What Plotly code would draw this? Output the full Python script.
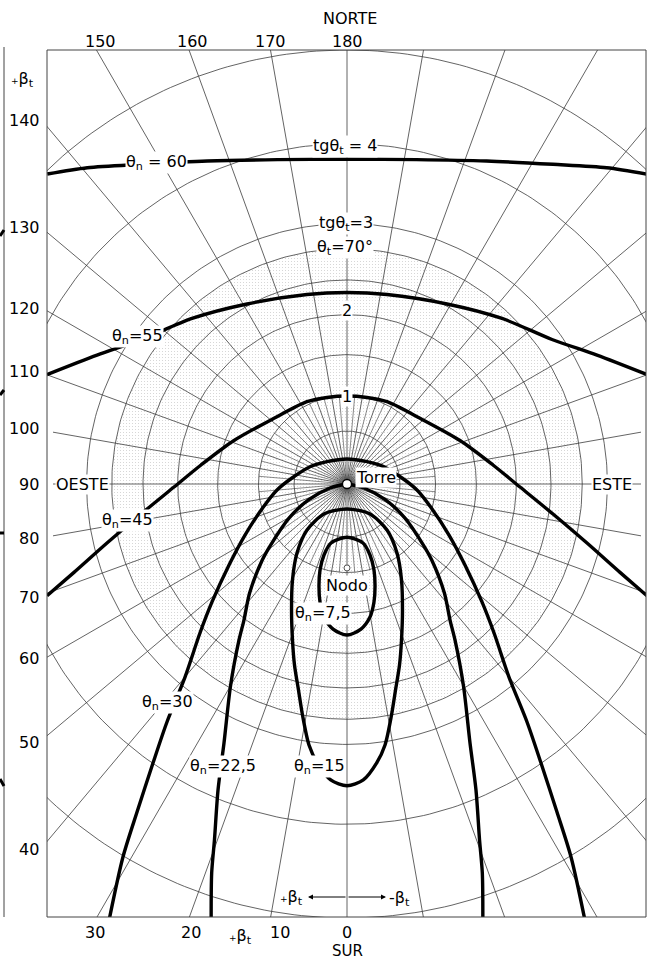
import numpy as np
import plotly.graph_objects as go

# ---------------- data (units: tg(theta_t); x = east, y = north; Torre at origin)
theta60_x = [-3.453, -2.992, -2.373, -1.609, -0.8, 0, 0.8, 1.609, 2.373, 2.992, 3.453]
theta60_y = [3.571, 3.644, 3.683, 3.721, 3.737, 3.741, 3.737, 3.721, 3.683, 3.644, 3.571]

theta55_x = [-3.456, -2.880, -2.362, -1.786, -1.152, -0.461, 0, 0.461, 1.152, 1.786, 2.362, 2.880, 3.456]
theta55_y = [1.261, 1.485, 1.665, 1.907, 2.074, 2.183, 2.206, 2.183, 2.074, 1.907, 1.665, 1.485, 1.261]

theta45_x = [-3.456, -3.145, -2.765, -2.373, -1.993, -1.682, -1.302, -0.841, -0.461, -0.230, 0,
             0.230, 0.461, 0.841, 1.302, 1.682, 1.993, 2.373, 2.765, 3.145, 3.456]
theta45_y = [-1.288, -1.018, -0.680, -0.346, -0.035, 0.219, 0.501, 0.757, 0.948, 0.997, 1.014,
             0.997, 0.948, 0.757, 0.501, 0.219, -0.035, -0.346, -0.680, -1.018, -1.288]

theta30_x = [-2.736, -2.581, -2.419, -2.235, -2.074, -1.866, -1.694, -1.555, -1.359, -1.175, -0.968,
             -0.806, -0.634, -0.426, -0.230, 0, 0.230, 0.426, 0.634, 0.806, 0.968, 1.175, 1.359,
             1.555, 1.694, 1.866, 2.074, 2.235, 2.419, 2.581, 2.736]
theta30_y = [-5.0, -4.297, -3.779, -3.215, -2.742, -2.224, -1.717, -1.359, -0.933, -0.588, -0.271,
             -0.069, 0.069, 0.199, 0.257, 0.288, 0.257, 0.199, 0.069, -0.069, -0.271, -0.588, -0.933,
             -1.359, -1.717, -2.224, -2.742, -3.215, -3.779, -4.297, -5.0]

theta22_x = [-1.565, -1.559, -1.527, -1.486, -1.417, -1.342, -1.244, -1.187, -1.122, -0.976, -0.88,
             -0.668, -0.444, -0.196, 0, 0.196, 0.444, 0.668, 0.88, 0.976, 1.122, 1.187, 1.244, 1.342,
             1.417, 1.486, 1.527, 1.559, 1.565]
theta22_y = [-5.0, -4.482, -4.101, -3.525, -2.984, -2.327, -1.797, -1.567, -1.256, -0.876, -0.703,
             -0.392, -0.184, -0.046, 0, -0.046, -0.184, -0.392, -0.703, -0.876, -1.256, -1.567, -1.797,
             -2.327, -2.984, -3.525, -4.101, -4.482, -5.0]

theta15_x = [0, 0.265, 0.461, 0.576, 0.628, 0.639, 0.628, 0.605, 0.559, 0.513, 0.438, 0.342, 0.188, 0,
             -0.188, -0.342, -0.438, -0.513, -0.559, -0.605, -0.628, -0.639, -0.628, -0.576, -0.461,
             -0.265, 0]
theta15_y = [-0.288, -0.346, -0.530, -0.795, -1.106, -1.452, -1.797, -2.085, -2.373, -2.661, -3.007,
             -3.214, -3.410, -3.476, -3.410, -3.214, -3.007, -2.661, -2.373, -2.085, -1.797, -1.452,
             -1.106, -0.795, -0.530, -0.346, -0.288]

theta7_x = [0, 0.184, 0.265, 0.311, 0.323, 0.311, 0.265, 0.161, 0, -0.161, -0.265, -0.311, -0.323,
            -0.311, -0.265, -0.184, 0]
theta7_y = [-0.614, -0.680, -0.818, -0.991, -1.175, -1.359, -1.532, -1.671, -1.740, -1.671, -1.532,
            -1.359, -1.175, -0.991, -0.818, -0.680, -0.614]

nodo_xy = (0.0, -0.967)
torre_xy = (0.0, 0.0)

# grid definition (coordinate system)
circle_tg = [0.61, 1.02, 1.49, 1.95, 2.35, 3.0, 3.92, 5.0]
shade_tg = 2.71          # theta_t = 70 deg
spoke_major = list(range(0, 360, 10))
spoke_minor = list(range(5, 360, 10))
minor_len = 1.02

left_ticks = [140, 130, 120, 110, 100, 90, 80, 70, 60, 50, 40]
left_tick_px = [120, 228, 308, 372, 429, 484, 538, 597, 658, 742, 849]
top_ticks = [150, 160, 170, 180]
top_tick_px = [100, 192, 270, 347]
bottom_ticks = [30, 20, 10, 0]
bottom_tick_px = [95, 191, 280, 347]

# ---------------- layout helpers (pixel -> data / paper)
S = 86.8
CX, CY = 347.0, 484.0
L_, R_, T_, B_ = 47, 646, 50, 917
def X(p): return (p - CX) / S
def Y(p): return (CY - p) / S
def PX(p): return (p - L_) / (R_ - L_)
def PY(p): return (B_ - p) / (B_ - T_)

FONT = "DejaVu Sans"
FS = 16
GRID = "#3c3c3c"
fig = go.Figure()

# shaded disk
t = np.linspace(0, 2 * np.pi, 361)
fig.add_trace(go.Scatter(x=shade_tg * np.cos(t), y=shade_tg * np.sin(t), mode="lines",
                         line=dict(width=0), fill="toself", fillcolor="white",
                         fillpattern=dict(shape=".", fgcolor="#a0a0a0", bgcolor="white",
                                          size=3, solidity=0.12),
                         hoverinfo="skip", showlegend=False))

# circles
for r in circle_tg + [shade_tg]:
    fig.add_trace(go.Scatter(x=r * np.cos(t), y=r * np.sin(t), mode="lines",
                             line=dict(color=GRID, width=0.8), hoverinfo="skip", showlegend=False))

# spokes (beta measured from south, positive toward west)
xmax_h = X(641)
for b in spoke_major:
    br = np.radians(b)
    dx, dy = -np.sin(br), -np.cos(br)
    Ls = 8.0
    if abs(dx) > 0.97:
        Ls = xmax_h / abs(dx)
    fig.add_trace(go.Scatter(x=[0, Ls * dx], y=[0, Ls * dy], mode="lines",
                             line=dict(color=GRID, width=0.8), hoverinfo="skip", showlegend=False))
for b in spoke_minor:
    br = np.radians(b)
    dx, dy = -np.sin(br), -np.cos(br)
    fig.add_trace(go.Scatter(x=[0, minor_len * dx], y=[0, minor_len * dy], mode="lines",
                             line=dict(color=GRID, width=0.6), hoverinfo="skip", showlegend=False))

# theta_n curves
thick = dict(color="black", width=3.4, shape="spline", smoothing=0.8)
for cx_, cy_ in [(theta60_x, theta60_y), (theta55_x, theta55_y), (theta45_x, theta45_y),
                 (theta30_x, theta30_y), (theta15_x, theta15_y), (theta7_x, theta7_y)]:
    fig.add_trace(go.Scatter(x=cx_, y=cy_, mode="lines", line=thick,
                             hoverinfo="skip", showlegend=False))
apex = theta22_y.index(0)
fig.add_trace(go.Scatter(x=theta22_x[:apex + 1], y=theta22_y[:apex + 1], mode="lines", line=thick,
                         hoverinfo="skip", showlegend=False))
fig.add_trace(go.Scatter(x=theta22_x[apex:], y=theta22_y[apex:], mode="lines", line=thick,
                         hoverinfo="skip", showlegend=False))

# Torre and Nodo
fig.add_trace(go.Scatter(x=[nodo_xy[0]], y=[nodo_xy[1]], mode="markers",
                         marker=dict(size=6, color="white", line=dict(color="#555", width=1)),
                         hoverinfo="skip", showlegend=False))
fig.add_trace(go.Scatter(x=[torre_xy[0]], y=[torre_xy[1]], mode="markers",
                         marker=dict(size=9, color="white", line=dict(color="black", width=1.3)),
                         hoverinfo="skip", showlegend=False))

ann = []
def lab(text, xp, yp, size=FS, bg=None, xanchor="center"):
    d = dict(text=text, x=PX(xp), y=PY(yp), xref="paper", yref="paper", showarrow=False,
             font=dict(family=FONT, size=size, color="black"), xanchor=xanchor, yanchor="middle")
    if bg:
        d.update(bgcolor=bg, borderpad=0)
    ann.append(d)

bt = "<span style='font-size:9px;color:black'>+</span>β<sub>t</sub>"
# axis-like labels
for v, p in zip(left_ticks, left_tick_px):
    lab(str(v), 42 if v >= 100 else 40.5, p, xanchor="right")
lab(bt, 22, 80)
for v, p in zip(top_ticks, top_tick_px):
    lab(str(v), p, 41)
lab("NORTE", 350, 18)
for v, p in zip(bottom_ticks, bottom_tick_px):
    lab(str(v), p, 932)
lab(bt, 240, 936)
lab("SUR", 347, 951, size=15)
lab("OESTE", 82, 484, bg="white")
lab("ESTE", 612, 484, bg="white")

# scale labels on the vertical axis
lab("tgθ<sub>t</sub> = 4", 345, 147, bg="white")
lab("tgθ<sub>t</sub>=3", 346, 223, bg="white")
lab("θ<sub>t</sub>=70°", 345, 248, bg="white")
lab("2", 347, 310, bg="white")
lab("1", 347, 396, bg="white")

# curve labels
lab("θ<sub>n</sub> = 60", 156, 162, bg="white")
lab("θ<sub>n</sub>=55", 137, 336, bg="white")
lab("θ<sub>n</sub>=45", 128, 520, bg="white")
lab("θ<sub>n</sub>=30", 167, 702, bg="white")
lab("θ<sub>n</sub>=22,5", 223, 766, bg="white")
lab("θ<sub>n</sub>=15", 319, 766, bg="white")
lab("θ<sub>n</sub>=7,5", 323, 613, bg="white")
lab("Torre", 376, 477, bg="white")
lab("Nodo", 347, 585, bg="white")

# beta arrows
lab(bt, 291, 897)
lab("-β<sub>t</sub>", 399, 898)
for tip in (308, 386):
    ann.append(dict(x=X(tip), y=Y(897), ax=X(347), ay=Y(897), xref="x", yref="y",
                    axref="x", ayref="y", showarrow=True, arrowhead=2, arrowsize=1,
                    arrowwidth=1, arrowcolor="black", text=""))

# frame, neighbouring-panel edge and its cropped curve stubs
shapes = [dict(type="rect", xref="paper", yref="paper", x0=0, x1=1, y0=0, y1=1,
               line=dict(color="#444", width=1), layer="above"),
          dict(type="line", xref="paper", yref="paper", x0=PX(4), x1=PX(4),
               y0=0, y1=PY(47), line=dict(color="#444", width=1))]
for y0p, y1p in [(236, 230), (395, 390), (533, 533), (779, 786)]:
    shapes.append(dict(type="line", xref="paper", yref="paper", x0=PX(0), x1=PX(4),
                       y0=PY(y0p), y1=PY(y1p), line=dict(color="black", width=3)))

fig.update_layout(
    width=647, height=961,
    margin=dict(l=L_, r=647 - R_, t=T_, b=961 - B_),
    paper_bgcolor="white", plot_bgcolor="white",
    showlegend=False,
    annotations=ann,
    shapes=shapes,
    xaxis=dict(range=[X(L_), X(R_)], showgrid=False, zeroline=False, showticklabels=False,
               ticks="", showline=False),
    yaxis=dict(range=[Y(B_), Y(T_)], showgrid=False, zeroline=False, showticklabels=False,
               ticks="", showline=False),
)

fig.write_html("out.html", config={"displayModeBar": False},
               post_script="document.body.style.margin='0';document.body.style.overflow='hidden';")
